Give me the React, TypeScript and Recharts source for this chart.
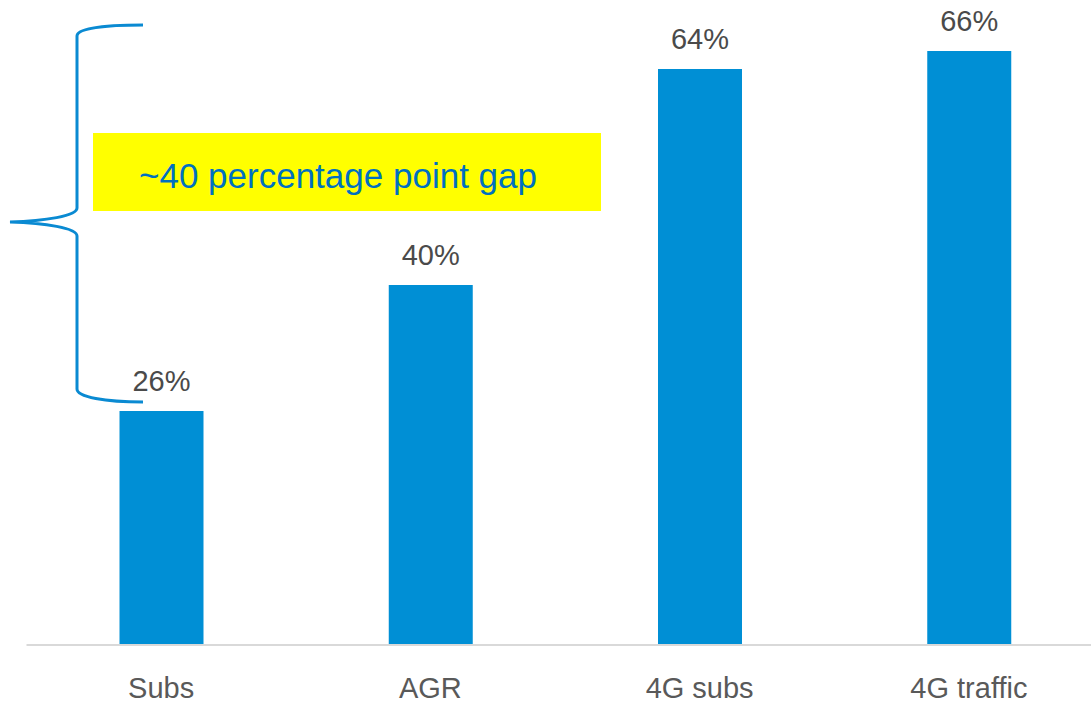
import React from 'react';
import { BarChart, Bar, XAxis, YAxis, LabelList } from 'recharts';

const categories = ['Subs', 'AGR', '4G subs', '4G traffic'];
const shares = [26, 40, 64, 66];
const gapNote = '~40 percentage point gap';

const data = categories.map((name, i) => ({ name, share: shares[i] }));

const BLUE = '#008fd5';
const FONT = '"Liberation Sans", Arial, sans-serif';

const Brace = () => (
  <svg
    width={1091}
    height={704}
    style={{ position: 'absolute', left: 0, top: 0, pointerEvents: 'none' }}
  >
    <path
      d="M143,25 C105,25 77,28 77,36 L77,208 C77,216 45,221 10,222 C45,223 77,228 77,236 L77,389 C77,397 105,402 143,402"
      fill="none"
      stroke="#0a8ad2"
      strokeWidth={3}
    />
    <rect x={93} y={133} width={508} height={78} fill="#ffff00" />
    <text
      x={338}
      y={175}
      textAnchor="middle"
      dominantBaseline="central"
      fill="#0070c0"
      fontSize={35}
      fontFamily={FONT}
    >
      {gapNote}
    </text>
  </svg>
);

export default function App() {
  return (
    <div
      style={{
        position: 'absolute',
        left: 0,
        top: 0,
        width: 1091,
        height: 704,
        overflow: 'hidden',
        background: '#fff',
        fontFamily: FONT,
      }}
    >
      <BarChart
        width={1110}
        height={704}
        data={data}
        margin={{ top: 15, right: 6.5, left: 26.5, bottom: 0 }}
      >
        <XAxis
          dataKey="name"
          height={59}
          tickLine={false}
          axisLine={{ stroke: '#d9d9d9', strokeWidth: 2 }}
          tick={{ fill: '#595959', fontSize: 29, fontFamily: FONT }}
          tickMargin={26}
        />
        <YAxis hide domain={[0, 70]} />
        <Bar dataKey="share" fill={BLUE} barSize={84} isAnimationActive={false}>
          <LabelList
            dataKey="share"
            position="top"
            offset={20}
            formatter={(v: any) => `${v}%`}
            style={{ fill: '#4a4a4a', fontSize: 29, fontFamily: FONT }}
          />
        </Bar>
      </BarChart>
      <Brace />
    </div>
  );
}
